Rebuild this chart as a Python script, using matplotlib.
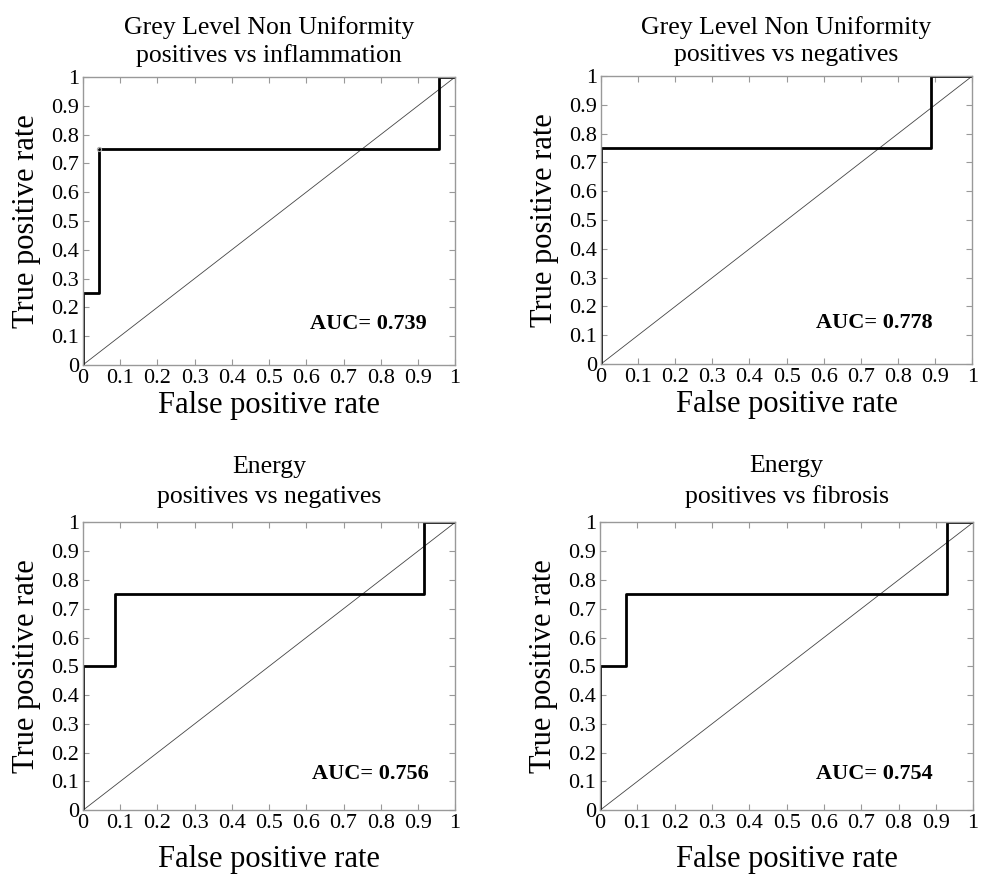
import matplotlib.pyplot as plt

plt.rcParams['font.family'] = ['Liberation Serif', 'DejaVu Serif']

# ROC curves
fpr_glnu_infl = [0, 0, 0.043, 0.043, 0.957, 0.957, 1]
tpr_glnu_infl = [0, 0.25, 0.25, 0.75, 0.75, 1, 1]

fpr_glnu_neg = [0, 0, 0.889, 0.889, 1]
tpr_glnu_neg = [0, 0.75, 0.75, 1, 1]

fpr_energy_neg = [0, 0, 0.085, 0.085, 0.915, 0.915, 1]
tpr_energy_neg = [0, 0.5, 0.5, 0.75, 0.75, 1, 1]

fpr_energy_fib = [0, 0, 0.071, 0.071, 0.929, 0.929, 1]
tpr_energy_fib = [0, 0.5, 0.5, 0.75, 0.75, 1, 1]

titles = ['Grey Level Non Uniformity\npositives vs inflammation',
          'Grey Level Non Uniformity\npositives vs negatives',
          'Energy\npositives vs negatives',
          'Energy\npositives vs fibrosis']
auc_values = [0.739, 0.778, 0.756, 0.754]
curves = [(fpr_glnu_infl, tpr_glnu_infl), (fpr_glnu_neg, tpr_glnu_neg),
          (fpr_energy_neg, tpr_energy_neg), (fpr_energy_fib, tpr_energy_fib)]

tick_vals = [0, 0.1, 0.2, 0.3, 0.4, 0.5, 0.6, 0.7, 0.8, 0.9, 1]
tick_labels = ['0', '0.1', '0.2', '0.3', '0.4', '0.5', '0.6', '0.7', '0.8', '0.9', '1']

# axes boxes in figure fractions
boxes = [[0.0845, 0.583, 0.379, 0.329],
         [0.612, 0.584, 0.378, 0.329],
         [0.0845, 0.074, 0.379, 0.329],
         [0.611, 0.074, 0.380, 0.329]]
label_pads = [2, 2, 8, 8]
title_pads = [11, 11, 14, 14]
title_spacing = [1.28, 1.28, 1.45, 1.45]
auc_pos = [(0.61, 0.125), (0.58, 0.125), (0.615, 0.108), (0.58, 0.108)]

fig = plt.figure(figsize=(9.82, 8.75), dpi=100)

for i in range(4):
    ax = fig.add_axes(boxes[i])
    fpr, tpr = curves[i]
    ax.plot([0, 1], [0, 1], color='#444444', lw=0.6)
    ax.plot(fpr, tpr, color='black', lw=2)
    if i == 0:
        # small grey circle left on the corner of the first curve
        ax.plot(fpr[3], tpr[3], 'o', ms=3, mfc='none', mec='#aaaaaa', mew=0.8)
    ax.set_xlim(0, 1)
    ax.set_ylim(0, 1)
    ax.set_xticks(tick_vals)
    ax.set_xticklabels(tick_labels)
    ax.set_yticks(tick_vals)
    ax.set_yticklabels(tick_labels)
    ax.tick_params(direction='in', top=True, right=True, length=4, width=0.8,
                   color='#999999', labelsize=16, pad=3)
    for sp in ax.spines.values():
        sp.set_color('#999999')
        sp.set_linewidth(1)
    ax.set_title(titles[i], fontsize=18.5, pad=title_pads[i],
                 linespacing=title_spacing[i])
    ax.set_xlabel('False positive rate', fontsize=22, labelpad=label_pads[i])
    ax.set_ylabel('True positive rate', fontsize=22, labelpad=7)
    ax.text(auc_pos[i][0], auc_pos[i][1], 'AUC= %.3f' % auc_values[i],
            transform=ax.transAxes, fontsize=16, fontweight='bold')

fig.savefig('out.png', dpi=100)
